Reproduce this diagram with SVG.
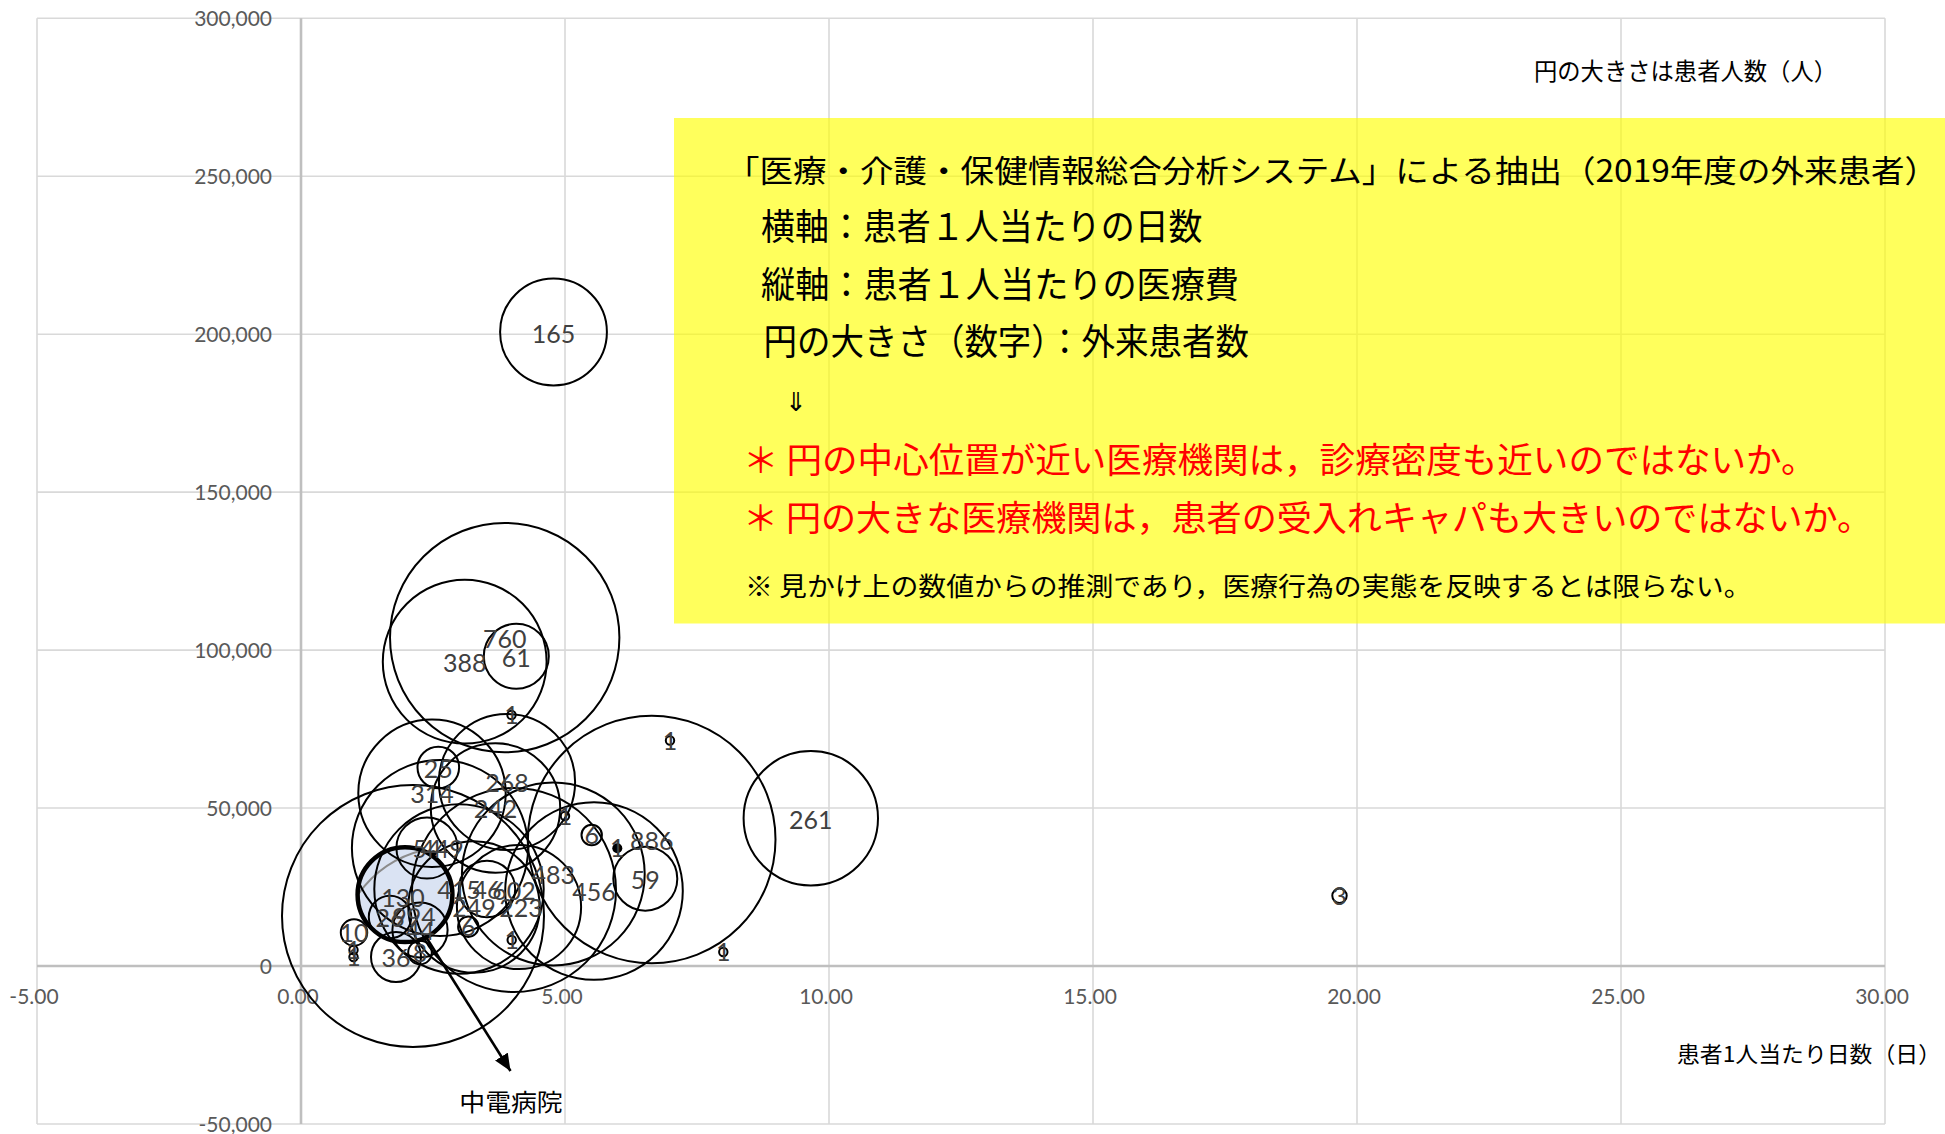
<svg xmlns="http://www.w3.org/2000/svg" width="1945" height="1134" viewBox="0 0 1945 1134">
<style>
.grid{stroke:#D9D9D9;stroke-width:1.6;fill:none}
.axis{stroke:#BFBFBF;stroke-width:2.6;fill:none}
.tk{font-family:Lato,"Liberation Sans",sans-serif;font-size:21px;fill:#595959}
.tky{text-anchor:end}
.tkx{text-anchor:middle}
.bub{fill:none;stroke:#000;stroke-width:2}
.lbl{font-family:Lato,"Liberation Sans",sans-serif;font-size:25px;fill:#404040;text-anchor:middle}
.jp{font-family:"Noto Sans CJK JP","Noto Sans",sans-serif;fill:#000}
.red{fill:#FF0000}
</style>
<defs>
<marker id="ah" markerUnits="userSpaceOnUse" markerWidth="18" markerHeight="16" refX="17" refY="7.5" orient="auto">
<path d="M0,0 L17,7.5 L0,15 z" fill="#000"/>
</marker>
</defs>
<rect width="1945" height="1134" fill="#fff"/>
<g id="gridlines">
<line class="grid" x1="37" y1="18.3" x2="37" y2="1124"/>
<line class="grid" x1="565" y1="18.3" x2="565" y2="1124"/>
<line class="grid" x1="829" y1="18.3" x2="829" y2="1124"/>
<line class="grid" x1="1093" y1="18.3" x2="1093" y2="1124"/>
<line class="grid" x1="1357" y1="18.3" x2="1357" y2="1124"/>
<line class="grid" x1="1621" y1="18.3" x2="1621" y2="1124"/>
<line class="grid" x1="1885" y1="18.3" x2="1885" y2="1124"/>
<line class="grid" x1="37" y1="18.3" x2="1885" y2="18.3"/>
<line class="grid" x1="37" y1="176.2" x2="1885" y2="176.2"/>
<line class="grid" x1="37" y1="334.2" x2="1885" y2="334.2"/>
<line class="grid" x1="37" y1="492.1" x2="1885" y2="492.1"/>
<line class="grid" x1="37" y1="650.1" x2="1885" y2="650.1"/>
<line class="grid" x1="37" y1="808" x2="1885" y2="808"/>
<line class="grid" x1="37" y1="1124" x2="1885" y2="1124"/>
<line class="axis" x1="301" y1="18.3" x2="301" y2="1124"/>
<line class="axis" x1="37" y1="966" x2="1885" y2="966"/>
</g>
<g id="y-ticks" class="tk tky">
<text x="272" y="25.8">300,000</text>
<text x="272" y="183.7">250,000</text>
<text x="272" y="341.7">200,000</text>
<text x="272" y="499.6">150,000</text>
<text x="272" y="657.6">100,000</text>
<text x="272" y="815.5">50,000</text>
<text x="272" y="973.5">0</text>
<text x="272" y="1131.5">-50,000</text>
</g>
<g id="x-ticks" class="tk tkx">
<text x="34" y="1003.5">-5.00</text>
<text x="298" y="1003.5">0.00</text>
<text x="562" y="1003.5">5.00</text>
<text x="826" y="1003.5">10.00</text>
<text x="1090" y="1003.5">15.00</text>
<text x="1354" y="1003.5">20.00</text>
<text x="1618" y="1003.5">25.00</text>
<text x="1882" y="1003.5">30.00</text>
</g>
<g id="note">
<rect x="674" y="118" width="1271" height="505.5" fill="#FFFF00" fill-opacity="0.64"/>
<text class="jp" x="726" y="181.5" font-size="31" textLength="1212" lengthAdjust="spacingAndGlyphs">「医療・介護・保健情報総合分析システム」による抽出（2019年度の外来患者）</text>
<text class="jp" x="761" y="239.5" font-size="36" textLength="441.6" lengthAdjust="spacingAndGlyphs">横軸：患者１人当たりの日数</text>
<text class="jp" x="761" y="298" font-size="36" textLength="478" lengthAdjust="spacingAndGlyphs">縦軸：患者１人当たりの医療費</text>
<text class="jp" x="763.5" y="355" font-size="36" textLength="485.5" lengthAdjust="spacingAndGlyphs">円の大きさ（数字）：外来患者数</text>
<text class="jp" x="796" y="411" font-size="26" text-anchor="middle">⇓</text>
<text class="jp red" x="743" y="473" font-size="35" textLength="1073.5" lengthAdjust="spacingAndGlyphs">＊ 円の中心位置が近い医療機関は，診療密度も近いのではないか。</text>
<text class="jp red" x="743" y="531" font-size="35" textLength="1129" lengthAdjust="spacingAndGlyphs">＊ 円の大きな医療機関は，患者の受入れキャパも大きいのではないか。</text>
<text class="jp" x="745" y="595.5" font-size="26" textLength="1006.5" lengthAdjust="spacingAndGlyphs">※ 見かけ上の数値からの推測であり，医療行為の実態を反映するとは限らない。</text>
</g>
<text id="size-note" class="jp" x="1534" y="79.5" font-size="24" textLength="303" lengthAdjust="spacingAndGlyphs">円の大きさは患者人数（人）</text>
<text id="x-title" class="jp" x="1677" y="1062" font-size="22" textLength="264" lengthAdjust="spacingAndGlyphs">患者1人当たり日数（日）</text>
<g id="bubble-chuden-fill">
<circle cx="405" cy="894.7" r="47.4" fill="#DAE3F3"/>
<path d="M358,894.4 A113,113 0 0,1 424,850" fill="none" stroke="#8C8C8C" stroke-width="2"/>
</g>
<g id="bubbles">
<g id="b165"><circle class="bub" cx="553.5" cy="332" r="53.4"/></g>
<g id="b760"><circle class="bub" cx="504.7" cy="637.6" r="114.7"/></g>
<g id="b388"><circle class="bub" cx="464.7" cy="661.7" r="81.9"/></g>
<g id="b61"><circle class="bub" cx="516.3" cy="656.3" r="32.5"/></g>
<g id="b1a"><circle class="bub" cx="511.5" cy="715" r="4.2"/></g>
<g id="b1b"><circle class="bub" cx="670" cy="740.5" r="4.2"/></g>
<g id="b25"><circle class="bub" cx="438.3" cy="767.5" r="20.8"/></g>
<g id="b314"><circle class="bub" cx="432" cy="793.3" r="73.7"/></g>
<g id="b268"><circle class="bub" cx="507" cy="782" r="68.1"/></g>
<g id="b242"><circle class="bub" cx="495.5" cy="808" r="64.7"/></g>
<g id="b1c"><circle class="bub" cx="565" cy="816" r="4.2"/></g>
<g id="b261"><circle class="bub" cx="810.8" cy="818.3" r="67.2"/></g>
<g id="b6a"><circle class="bub" cx="591.7" cy="835" r="10.2"/></g>
<g id="b1d"><circle cx="617.3" cy="848.3" r="5" fill="#000"/></g>
<g id="b886"><circle class="bub" cx="651.7" cy="839.5" r="123.8"/></g>
<g id="b59"><circle class="bub" cx="645.3" cy="878.7" r="32"/></g>
<g id="b483"><circle class="bub" cx="553.3" cy="874" r="91.4"/></g>
<g id="b456"><circle class="bub" cx="594" cy="891" r="88.8"/></g>
<g id="b449"><circle class="bub" cx="440" cy="848" r="88.1"/></g>
<g id="b54"><circle class="bub" cx="427" cy="848" r="30.6"/></g>
<g id="b1e"><circle cx="433.3" cy="853.3" r="3" fill="#000"/></g>
<g id="b994"><circle class="bub" cx="413" cy="916" r="131"/></g>
<g id="b415"><circle class="bub" cx="459" cy="889" r="84.7"/></g>
<g id="b46"><circle class="bub" cx="487" cy="889" r="28.2"/></g>
<g id="b602"><circle class="bub" cx="514" cy="890" r="102"/></g>
<g id="b249"><circle class="bub" cx="474" cy="907" r="65.7"/></g>
<g id="b223"><circle class="bub" cx="519" cy="907" r="62.1"/></g>
<g id="b6b"><circle class="bub" cx="468.3" cy="926.7" r="10.2"/></g>
<g id="b1f"><circle class="bub" cx="511.7" cy="940" r="4.2"/></g>
<g id="b26"><circle class="bub" cx="390" cy="917" r="21.2"/></g>
<g id="b44"><circle class="bub" cx="420" cy="930" r="27.6"/></g>
<g id="b36"><circle class="bub" cx="396" cy="957" r="25"/></g>
<g id="b8"><circle class="bub" cx="420" cy="952.5" r="11.8"/></g>
<g id="b10"><circle class="bub" cx="354" cy="932.5" r="13.2"/></g>
<g id="b1g"><circle class="bub" cx="353.5" cy="950" r="4.2"/></g>
<g id="b1h"><circle class="bub" cx="353.5" cy="957" r="4.2"/></g>
<g id="b1i"><circle class="bub" cx="723.3" cy="952" r="4.2"/></g>
<g id="b3"><circle class="bub" cx="1339.5" cy="895.8" r="7.2"/></g>
<g id="b130-chuden"><circle cx="405" cy="894.7" r="47.4" fill="none" stroke="#000" stroke-width="4.5"/></g>
</g>
<g id="connectors">
<line x1="426" y1="937" x2="510.5" y2="1071" stroke="#000" stroke-width="2.6" marker-end="url(#ah)"/>
</g>
<text id="chuden-label" class="jp" x="459.3" y="1111" font-size="24" textLength="103.4" lengthAdjust="spacingAndGlyphs">中電病院</text>
<g id="bubble-labels" class="lbl">
<text x="553.5" y="343">165</text>
<text x="504.7" y="648">760</text>
<text x="464.7" y="672">388</text>
<text x="516.3" y="667">61</text>
<text x="511.5" y="724">1</text>
<text x="670" y="749.5">1</text>
<text x="438.3" y="777.5">25</text>
<text x="432" y="803">314</text>
<text x="507" y="792">268</text>
<text x="495.5" y="818">242</text>
<text x="565" y="825">1</text>
<text x="810.8" y="829">261</text>
<text x="591.7" y="844">6</text>
<text x="617.3" y="857.3">1</text>
<text x="651.7" y="850">886</text>
<text x="645.3" y="889">59</text>
<text x="553.3" y="884">483</text>
<text x="594" y="901">456</text>
<text x="427" y="858">54</text>
<text x="442" y="858">449</text>
<text x="403" y="907">130</text>
<text x="459" y="899">415</text>
<text x="487" y="899">46</text>
<text x="514" y="900">602</text>
<text x="474" y="917">249</text>
<text x="521" y="917">223</text>
<text x="390" y="927">26</text>
<text x="414" y="926">994</text>
<text x="420" y="940">44</text>
<text x="468.3" y="936">6</text>
<text x="511.7" y="949">1</text>
<text x="396" y="967">36</text>
<text x="420" y="962">8</text>
<text x="354" y="941.5">10</text>
<text x="353.5" y="959">1</text>
<text x="353.5" y="966">1</text>
<text x="723.3" y="961">1</text>
<text x="1339.5" y="904.8">3</text>
</g>
</svg>
